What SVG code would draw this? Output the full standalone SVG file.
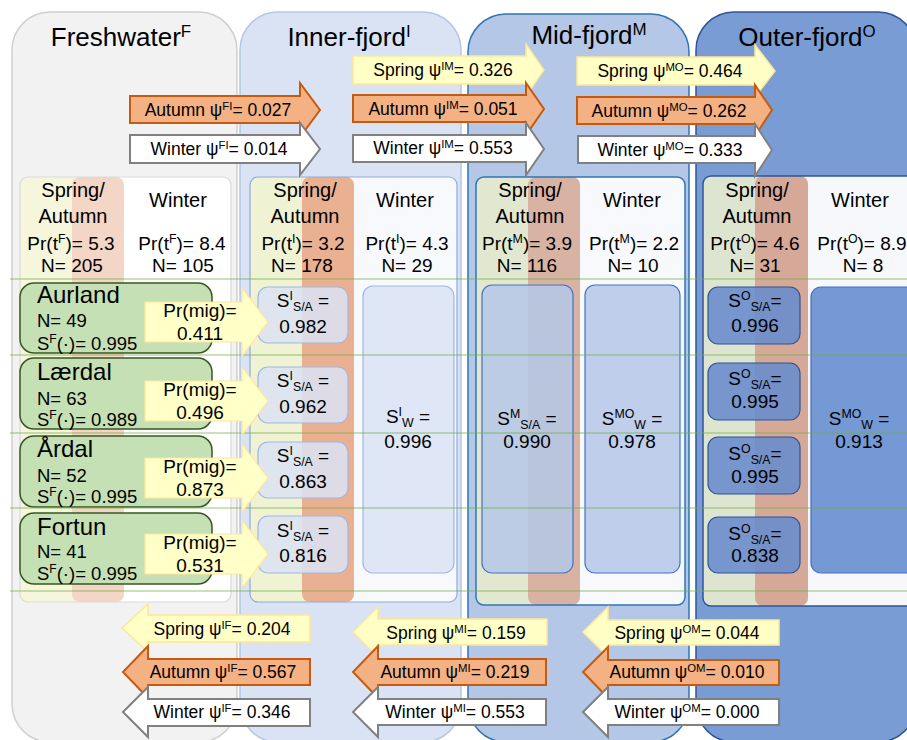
<svg xmlns="http://www.w3.org/2000/svg" width="907" height="740" viewBox="0 0 907 740">
<defs>
<style>
text{font-family:"Liberation Sans",Arial,sans-serif;fill:#000}
.t{font-size:26px;text-anchor:middle}
.h{font-size:20px;text-anchor:middle}
.p{font-size:19px;text-anchor:middle}
.a{font-size:17.5px;text-anchor:middle}
.ln{font-size:24px}
.ls{font-size:18.5px}
.sup{font-size:65%;baseline-shift:0.55em}
.sub{font-size:65%;baseline-shift:-0.3em}
.spr{fill:#ffffc6;stroke:#ffe699;stroke-width:1.5}
.aut{fill:#f4b183;stroke:#c55a11;stroke-width:2}
.win{fill:#fff;stroke:#808080;stroke-width:2}
.mig{fill:#ffffc8;stroke:#ffe699;stroke-width:1.2}
.loc{fill:#c5e0b4;stroke:#385723;stroke-width:1.5}
.si{fill:#dae3f3;fill-opacity:.85;stroke:#9fb7e0;stroke-width:1.2}
.sm{fill:#b4c7e7;fill-opacity:.85;stroke:#4472c4;stroke-width:1.2}
.so{fill:#6a8dcc;fill-opacity:.9;stroke:#2f5597;stroke-width:1.2}
.grid{stroke:#70ad47;stroke-width:1;opacity:.75;fill:none}
</style>
</defs>

<!-- Regions -->
<g id="freshwater">
<rect x="12" y="12" width="225" height="730" rx="38" fill="#f2f2f2" stroke="#d0d0d0" stroke-width="1.5"/>
<text class="t" x="121" y="46">Freshwater<tspan class="sup">F</tspan></text>
<rect x="20" y="177" width="211" height="425" rx="8" fill="#fff"/>
<rect x="20" y="177" width="104" height="425" rx="8" fill="#f6f6dd"/>
<rect x="72" y="177" width="52" height="425" rx="8" fill="#f3d6c5"/>
<rect x="127" y="177" width="104" height="425" rx="8" fill="#fff"/>
<rect x="20" y="177" width="211" height="425" rx="8" fill="none" stroke="#d9d9d9" stroke-width="1.2"/>
<text class="h" x="73" y="197">Spring/</text>
<text class="h" x="73" y="223">Autumn</text>
<text class="h" x="178" y="207">Winter</text>
<text class="p" x="71" y="250">Pr(t<tspan class="sup">F</tspan>)= 5.3</text>
<text class="p" x="72" y="272">N= 205</text>
<text class="p" x="182" y="250">Pr(t<tspan class="sup">F</tspan>)= 8.4</text>
<text class="p" x="183" y="272">N= 105</text>
</g>

<g id="inner-fjord">
<rect x="240" y="12" width="221" height="730" rx="38" fill="#dae3f3" stroke="#b4c7e7" stroke-width="1.5"/>
<text class="t" x="349" y="46">Inner-fjord<tspan class="sup">I</tspan></text>
<rect x="250" y="177" width="207" height="425" rx="8" fill="#f8f9fd"/>
<rect x="250" y="177" width="104" height="425" rx="8" fill="#f0f2d4"/>
<rect x="302" y="177" width="52" height="425" rx="8" fill="#eab092"/>
<rect x="356" y="177" width="101" height="425" rx="8" fill="#f8f9fd"/>
<rect x="250" y="177" width="207" height="425" rx="8" fill="none" stroke="#8faadc" stroke-width="1.2"/>
<text class="h" x="305" y="197">Spring/</text>
<text class="h" x="305" y="223">Autumn</text>
<text class="h" x="405" y="207">Winter</text>
<text class="p" x="303" y="250">Pr(t<tspan class="sup">I</tspan>)= 3.2</text>
<text class="p" x="302" y="272">N= 178</text>
<text class="p" x="407" y="250">Pr(t<tspan class="sup">I</tspan>)= 4.3</text>
<text class="p" x="407" y="272">N= 29</text>
</g>

<g id="mid-fjord">
<rect x="468" y="14" width="221" height="728" rx="38" fill="#b4c7e7" stroke="#2e75b6" stroke-width="1.5"/>
<text class="t" x="589" y="44">Mid-fjord<tspan class="sup">M</tspan></text>
<rect x="476" y="177" width="209" height="428" rx="8" fill="#f8f9fd"/>
<rect x="476" y="177" width="104" height="428" rx="8" fill="#e2e8d0"/>
<rect x="528" y="177" width="52" height="428" rx="8" fill="#d8b2a2"/>
<rect x="581" y="177" width="103" height="428" rx="8" fill="#f8f9fd"/>
<rect x="476" y="177" width="209" height="428" rx="8" fill="none" stroke="#2e75b6" stroke-width="1.5"/>
<text class="h" x="530" y="197">Spring/</text>
<text class="h" x="530" y="223">Autumn</text>
<text class="h" x="632" y="207">Winter</text>
<text class="p" x="527" y="250">Pr(t<tspan class="sup">M</tspan>)= 3.9</text>
<text class="p" x="527" y="272">N= 116</text>
<text class="p" x="634" y="250">Pr(t<tspan class="sup">M</tspan>)= 2.2</text>
<text class="p" x="633" y="272">N= 10</text>
</g>

<g id="outer-fjord">
<rect x="696" y="12" width="220" height="730" rx="38" fill="#7a9cd5" stroke="#2f5597" stroke-width="1.5"/>
<text class="t" x="807" y="46">Outer-fjord<tspan class="sup">O</tspan></text>
<rect x="703" y="176" width="230" height="430" rx="8" fill="#f6f8fc"/>
<rect x="703" y="176" width="105" height="430" rx="8" fill="#dde5d0"/>
<rect x="755" y="176" width="53" height="430" rx="8" fill="#d5a898"/>
<rect x="809" y="176" width="124" height="430" rx="8" fill="#f6f8fc"/>
<rect x="703" y="176" width="230" height="430" rx="8" fill="none" stroke="#2f5597" stroke-width="1.5"/>
<text class="h" x="757" y="197">Spring/</text>
<text class="h" x="757" y="223">Autumn</text>
<text class="h" x="860" y="207">Winter</text>
<text class="p" x="755" y="250">Pr(t<tspan class="sup">O</tspan>)= 4.6</text>
<text class="p" x="755" y="272">N= 31</text>
<text class="p" x="862" y="250">Pr(t<tspan class="sup">O</tspan>)= 8.9</text>
<text class="p" x="863" y="272">N= 8</text>
</g>

<!-- Survival boxes -->
<g id="SI-aurland"><rect class="si" x="258" y="287" width="90" height="56" rx="10"/>
<text class="p" x="303" y="307">S<tspan class="sup">I</tspan><tspan class="sub">S/A</tspan> =</text><text class="p" x="303" y="333">0.982</text></g>
<g id="SI-laerdal"><rect class="si" x="258" y="367" width="90" height="56" rx="10"/>
<text class="p" x="303" y="387">S<tspan class="sup">I</tspan><tspan class="sub">S/A</tspan> =</text><text class="p" x="303" y="413">0.962</text></g>
<g id="SI-ardal"><rect class="si" x="258" y="442" width="90" height="56" rx="10"/>
<text class="p" x="303" y="462">S<tspan class="sup">I</tspan><tspan class="sub">S/A</tspan> =</text><text class="p" x="303" y="488">0.863</text></g>
<g id="SI-fortun"><rect class="si" x="258" y="516" width="90" height="57" rx="10"/>
<text class="p" x="303" y="537">S<tspan class="sup">I</tspan><tspan class="sub">S/A</tspan> =</text><text class="p" x="303" y="562">0.816</text></g>
<g id="SI-winter"><rect class="si" x="363" y="286" width="91" height="287" rx="10"/>
<text class="p" x="408" y="423">S<tspan class="sup">I</tspan><tspan class="sub">W</tspan> =</text><text class="p" x="408" y="448">0.996</text></g>

<g id="SM-spring"><rect class="sm" x="482" y="285" width="91" height="288" rx="10"/>
<text class="p" x="527" y="425">S<tspan class="sup">M</tspan><tspan class="sub">S/A</tspan> =</text><text class="p" x="527" y="448">0.990</text></g>
<g id="SM-winter"><rect class="sm" x="585" y="285" width="95" height="288" rx="10"/>
<text class="p" x="632" y="425">S<tspan class="sup">MO</tspan><tspan class="sub">W</tspan> =</text><text class="p" x="632" y="448">0.978</text></g>

<g id="SO-1"><rect class="so" x="708" y="287" width="92" height="57" rx="10"/>
<text class="p" x="755" y="307">S<tspan class="sup">O</tspan><tspan class="sub">S/A</tspan>=</text><text class="p" x="755" y="332">0.996</text></g>
<g id="SO-2"><rect class="so" x="708" y="363" width="92" height="57" rx="10"/>
<text class="p" x="755" y="385">S<tspan class="sup">O</tspan><tspan class="sub">S/A</tspan>=</text><text class="p" x="755" y="408">0.995</text></g>
<g id="SO-3"><rect class="so" x="708" y="437" width="92" height="57" rx="10"/>
<text class="p" x="755" y="460">S<tspan class="sup">O</tspan><tspan class="sub">S/A</tspan>=</text><text class="p" x="755" y="483">0.995</text></g>
<g id="SO-4"><rect class="so" x="708" y="517" width="92" height="56" rx="10"/>
<text class="p" x="755" y="540">S<tspan class="sup">O</tspan><tspan class="sub">S/A</tspan>=</text><text class="p" x="755" y="562">0.838</text></g>
<g id="SO-winter"><rect x="811" y="287" width="110" height="286" rx="10" fill="#7499d4" stroke="#4a6fb5" stroke-width="1.2"/>
<text class="p" x="859" y="425">S<tspan class="sup">MO</tspan><tspan class="sub">W</tspan> =</text><text class="p" x="859" y="448">0.913</text></g>

<!-- Locations -->
<g id="aurland"><rect class="loc" x="20" y="283" width="192" height="70" rx="14"/>
<text class="ln" x="37" y="303">Aurland</text><text class="ls" x="37" y="327">N= 49</text>
<text class="ls" x="37" y="350">S<tspan class="sup">F</tspan>(·)= 0.995</text></g>
<g id="laerdal"><rect class="loc" x="20" y="358" width="192" height="71" rx="14"/>
<text class="ln" x="37" y="380">Lærdal</text><text class="ls" x="37" y="405">N= 63</text>
<text class="ls" x="37" y="426">S<tspan class="sup">F</tspan>(·)= 0.989</text></g>
<g id="ardal"><rect class="loc" x="20" y="436" width="192" height="71" rx="14"/>
<text class="ln" x="37" y="457">Årdal</text><text class="ls" x="37" y="482">N= 52</text>
<text class="ls" x="37" y="503">S<tspan class="sup">F</tspan>(·)= 0.995</text></g>
<g id="fortun"><rect class="loc" x="20" y="513" width="192" height="71" rx="14"/>
<text class="ln" x="37" y="535">Fortun</text><text class="ls" x="37" y="558">N= 41</text>
<text class="ls" x="37" y="580">S<tspan class="sup">F</tspan>(·)= 0.995</text></g>

<!-- Grid lines -->
<g id="gridlines" class="grid">
<path d="M10 279H907M10 355H907M10 433H907M10 508H907M10 591H907"/>
</g>

<!-- Connectors -->
<g id="connectors">
<path class="mig" d="M145 302H242V288L268 322L242 356V342H145Z"/>
<text class="p" x="200" y="317">Pr(mig)=</text><text class="p" x="200" y="340">0.411</text>
<path class="mig" d="M145 381H242V367L268 401L242 435V421H145Z"/>
<text class="p" x="200" y="396">Pr(mig)=</text><text class="p" x="200" y="419">0.496</text>
<path class="mig" d="M145 458H242V444L268 478L242 512V498H145Z"/>
<text class="p" x="200" y="473">Pr(mig)=</text><text class="p" x="200" y="496">0.873</text>
<path class="mig" d="M145 534H242V520L268 554L242 588V574H145Z"/>
<text class="p" x="200" y="549">Pr(mig)=</text><text class="p" x="200" y="572">0.531</text>

<path class="spr" d="M353 56H526V44L544 70L526 96V84H353Z"/>
<text class="a" x="443" y="76">Spring ψ<tspan class="sup">IM</tspan>= 0.326</text>
<path class="spr" d="M577 57H755V45L775 71L755 97V85H577Z"/>
<text class="a" x="670" y="77">Spring ψ<tspan class="sup">MO</tspan>= 0.464</text>

<path class="aut" d="M130 96H300V83L320 110L300 137V123H130Z"/>
<text class="a" x="218" y="116">Autumn ψ<tspan class="sup">FI</tspan>= 0.027</text>
<path class="aut" d="M353 95H526V83L544 109L526 135V122H353Z"/>
<text class="a" x="443" y="115">Autumn ψ<tspan class="sup">IM</tspan>= 0.051</text>
<path class="aut" d="M577 97H755V85L772 110L755 136V124H577Z"/>
<text class="a" x="669" y="117">Autumn ψ<tspan class="sup">MO</tspan>= 0.262</text>

<path class="win" d="M130 135H300V123L320 149L300 175V163H130Z"/>
<text class="a" x="219" y="155">Winter ψ<tspan class="sup">FI</tspan>= 0.014</text>
<path class="win" d="M353 135H526V123L544 149L526 175V162H353Z"/>
<text class="a" x="443" y="154">Winter ψ<tspan class="sup">IM</tspan>= 0.553</text>
<path class="win" d="M578 136H755V124L772 150L755 176V163H578Z"/>
<text class="a" x="670" y="156">Winter ψ<tspan class="sup">MO</tspan>= 0.333</text>

<path class="spr" d="M310 615H148V604L122 628L148 652V642H310Z"/>
<text class="a" x="222" y="635">Spring ψ<tspan class="sup">IF</tspan>= 0.204</text>
<path class="spr" d="M547 619H378V607L353 632L378 657V645H547Z"/>
<text class="a" x="456" y="639">Spring ψ<tspan class="sup">MI</tspan>= 0.159</text>
<path class="spr" d="M779 620H608V607L583 632L608 657V645H779Z"/>
<text class="a" x="687" y="639">Spring ψ<tspan class="sup">OM</tspan>= 0.044</text>

<path class="aut" d="M310 659H148V646L123 672L148 698V685H310Z"/>
<text class="a" x="223" y="678">Autumn ψ<tspan class="sup">IF</tspan>= 0.567</text>
<path class="aut" d="M546 659H378V646L353 672L378 698V685H546Z"/>
<text class="a" x="455" y="678">Autumn ψ<tspan class="sup">MI</tspan>= 0.219</text>
<path class="aut" d="M779 660H608V647L583 672L608 698V685H779Z"/>
<text class="a" x="687" y="678">Autumn ψ<tspan class="sup">OM</tspan>= 0.010</text>

<path class="win" d="M310 699H148V687L123 712L148 737V726H310Z"/>
<text class="a" x="222" y="718">Winter ψ<tspan class="sup">IF</tspan>= 0.346</text>
<path class="win" d="M546 699H378V687L353 712L378 737V725H546Z"/>
<text class="a" x="455" y="718">Winter ψ<tspan class="sup">MI</tspan>= 0.553</text>
<path class="win" d="M779 699H608V687L583 712L608 737V725H779Z"/>
<text class="a" x="687" y="718">Winter ψ<tspan class="sup">OM</tspan>= 0.000</text>
</g>
</svg>
